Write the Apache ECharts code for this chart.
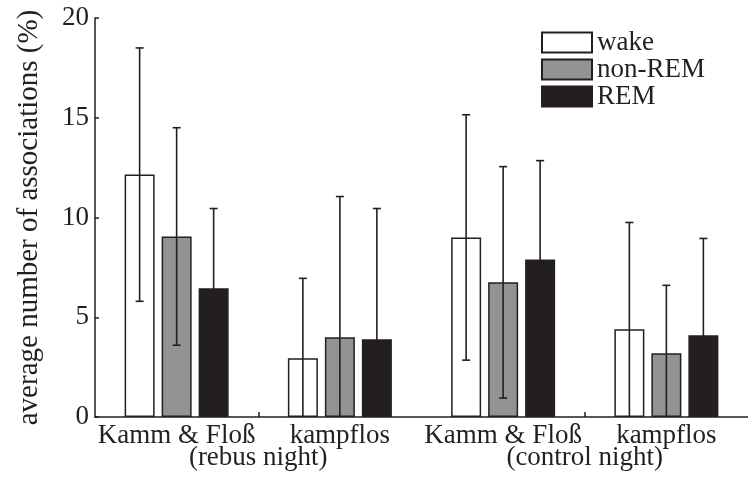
<!DOCTYPE html>
<html>
<head>
<meta charset="utf-8">
<script src="https://cdn.jsdelivr.net/npm/echarts@6/dist/echarts.min.js"></script>
<style>
  html, body { margin: 0; padding: 0; background: #fff; }
  #chart { width: 748px; height: 478px; }
</style>
</head>
<body>
<div id="chart"></div>
<script>
// Conditions (first axis row) and nights (second axis row)
const conditions = ['Kamm & Floß', 'kampflos', 'Kamm & Floß', 'kampflos'];
const nights = ['(rebus night)', '(control night)'];
const stages = ['wake', 'non-REM', 'REM'];

// Mean percentage of associations per stage
const wakeMean   = [12.15, 2.95, 9.0, 4.4];
const nonRemMean = [9.05, 4.0, 6.75, 3.2];
const remMean    = [6.45, 3.9, 7.9, 4.1];

// Error bar half-lengths
const wakeErr   = [6.35, 4.0, 6.15, 5.35];
const nonRemErr = [5.45, 7.05, 5.8, 3.4];
const remErr    = [4.0, 6.55, 4.95, 4.85];

const yTicks = [0, 5, 10, 15, 20];

const INK = '#231f20';
const FONT = 'Liberation Serif';
const FS = 27;
const BAR_W = 30;
const BAR_GAP = 7;
const CAP_HALF = 4;

const fills = ['#ffffff', '#939393', '#231f20'];
const means = [wakeMean, nonRemMean, remMean];
const errs = [wakeErr, nonRemErr, remErr];

const barSeries = stages.map((name, k) => ({
  name: name,
  type: 'bar',
  xAxisIndex: 0,
  barWidth: BAR_W,
  barGap: (BAR_GAP / BAR_W * 100) + '%',
  itemStyle: { color: fills[k], borderColor: INK, borderWidth: 1.5 },
  emphasis: { disabled: true },
  data: means[k],
  z: 2
}));

function errorRenderer(k) {
  return function (params, api) {
    const i = api.value(0);
    const m = api.value(1);
    const e = api.value(2);
    const shift = (k - 1) * (BAR_W + BAR_GAP);
    const top = api.coord([i, m + e]);
    const lowVal = Math.max(m - e, 0);
    const bot = api.coord([i, lowVal]);
    const x = top[0] + shift;
    const style = { stroke: INK, lineWidth: 1.6 };
    const children = [
      { type: 'line', shape: { x1: x, y1: top[1], x2: x, y2: bot[1] }, style: style },
      { type: 'line', shape: { x1: x - CAP_HALF, y1: top[1], x2: x + CAP_HALF, y2: top[1] }, style: style }
    ];
    if (m - e >= 0) {
      children.push({ type: 'line', shape: { x1: x - CAP_HALF, y1: bot[1], x2: x + CAP_HALF, y2: bot[1] }, style: style });
    }
    return { type: 'group', children: children };
  };
}

const errSeries = stages.map((name, k) => ({
  name: name + ' error',
  type: 'custom',
  xAxisIndex: 0,
  renderItem: errorRenderer(k),
  data: means[k].map((m, i) => [i, m, errs[k][i]]),
  z: 5,
  silent: true
}));

const chart = echarts.init(document.getElementById('chart'), null, { renderer: 'canvas' });

chart.setOption({
  animation: false,
  backgroundColor: '#ffffff',
  textStyle: { fontFamily: FONT, color: INK },
  grid: { left: 95, top: 18, bottom: 61, right: -11, containLabel: false },
  legend: {
    data: stages,
    orient: 'vertical',
    left: 541,
    top: 29,
    icon: 'rect',
    itemWidth: 50,
    itemHeight: 20,
    itemGap: 0,
    padding: 0,
    selectedMode: false,
    textStyle: { fontFamily: FONT, fontSize: FS, color: INK }
  },
  xAxis: [
    {
      type: 'category',
      data: conditions,
      position: 'bottom',
      axisLine: { show: true, lineStyle: { color: INK, width: 1.5 } },
      axisTick: { show: false },
      axisLabel: { interval: 0, fontFamily: FONT, fontSize: FS, color: INK, margin: 5 }
    },
    {
      type: 'category',
      data: nights,
      position: 'bottom',
      axisLine: { show: false },
      axisTick: { show: true, alignWithLabel: true, inside: true, length: 5, lineStyle: { color: INK, width: 1.5 } },
      axisLabel: { interval: 0, fontFamily: FONT, fontSize: FS, color: INK, margin: 27 }
    }
  ],
  yAxis: {
    type: 'value',
    min: 0,
    max: 20,
    interval: 5,
    name: 'average number of associations (%)',
    nameLocation: 'middle',
    nameGap: 51,
    nameTextStyle: { fontFamily: FONT, fontSize: 29, color: INK },
    axisLine: { show: true, lineStyle: { color: INK, width: 1.5 } },
    axisTick: { show: true, inside: true, length: 4, lineStyle: { color: INK, width: 1.5 } },
    splitLine: { show: false },
    axisLabel: {
      fontFamily: FONT, fontSize: FS, color: INK, margin: 6,
      formatter: v => (yTicks.indexOf(v) >= 0 ? String(v) : '')
    }
  },
  series: barSeries.concat(errSeries)
});
</script>
</body>
</html>
